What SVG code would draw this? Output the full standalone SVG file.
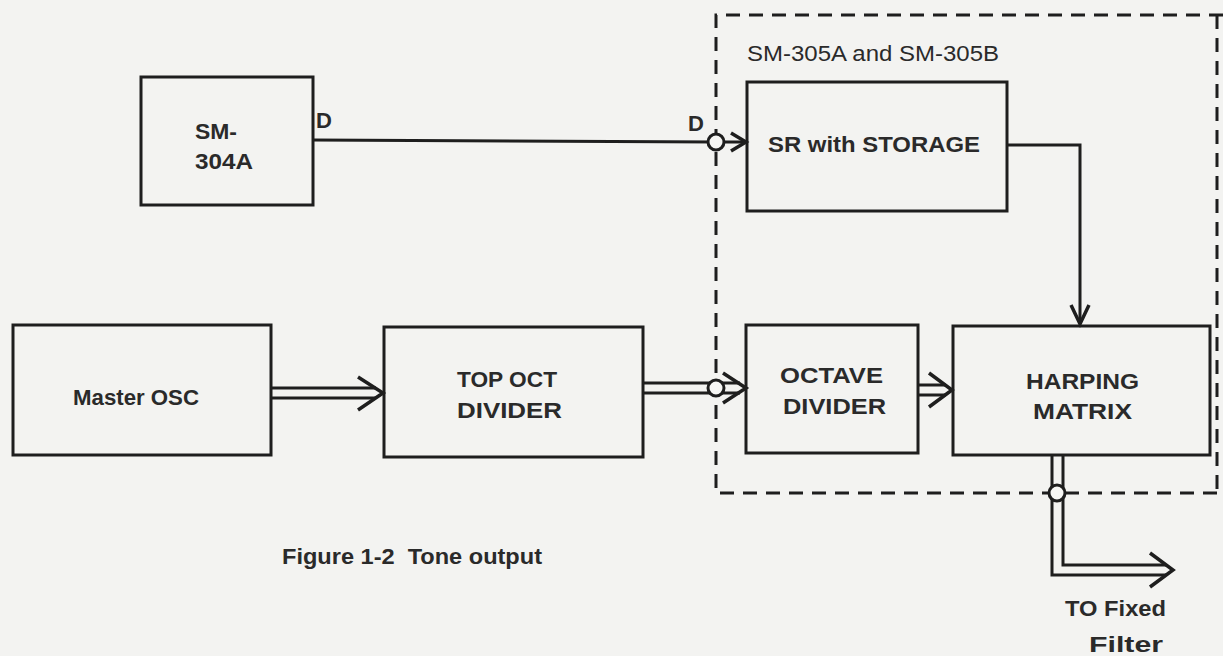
<svg xmlns="http://www.w3.org/2000/svg" width="1223" height="656" viewBox="0 0 1223 656">
<style>
.bg{fill:#f3f3f1}
.box{fill:none;stroke:#1e1e1e;stroke-width:3}
.ln{fill:none;stroke:#1e1e1e;stroke-width:3;stroke-linejoin:miter}
.hd{fill:none;stroke:#1e1e1e;stroke-width:3.5;stroke-linejoin:miter}
.dash{fill:none;stroke:#1e1e1e;stroke-width:3;stroke-dasharray:14 9}
.jn{fill:#f6f6f4;stroke:#1e1e1e;stroke-width:3}
.t{font-family:"Liberation Sans",Arial,sans-serif;font-weight:bold;fill:#2a2a2a;font-size:22px}
.tn{font-family:"Liberation Sans",Arial,sans-serif;fill:#2a2a2a;font-size:22px}
</style>
<rect class="bg" x="0" y="0" width="1223" height="656"/>

<g id="group-sm305">
<path class="dash" d="M1223 15 H716 V493 H1223"/>
<path class="dash" d="M1217 15 V493"/>
<text class="tn" x="747" y="61" textLength="252" lengthAdjust="spacingAndGlyphs">SM-305A and SM-305B</text>
</g>

<g id="node-sm304a">
<rect class="box" x="141" y="77" width="172" height="128"/>
<text class="t" x="195" y="139" textLength="42" lengthAdjust="spacingAndGlyphs">SM-</text>
<text class="t" x="195" y="169" textLength="58" lengthAdjust="spacingAndGlyphs">304A</text>
</g>

<g id="node-sr">
<rect class="box" x="747" y="82" width="260" height="129"/>
<text class="t" x="768" y="152" textLength="212" lengthAdjust="spacingAndGlyphs">SR with STORAGE</text>
</g>

<g id="node-master">
<rect class="box" x="13" y="325" width="258" height="130"/>
<text class="t" x="73" y="405" textLength="126" lengthAdjust="spacingAndGlyphs">Master OSC</text>
</g>

<g id="node-topoct">
<rect class="box" x="384" y="327" width="259" height="130"/>
<text class="t" x="457" y="387" textLength="100" lengthAdjust="spacingAndGlyphs">TOP OCT</text>
<text class="t" x="457" y="418" textLength="105" lengthAdjust="spacingAndGlyphs">DIVIDER</text>
</g>

<g id="node-octave">
<rect class="box" x="746" y="325" width="172" height="128"/>
<text class="t" x="780" y="383" textLength="103" lengthAdjust="spacingAndGlyphs">OCTAVE</text>
<text class="t" x="783" y="414" textLength="103" lengthAdjust="spacingAndGlyphs">DIVIDER</text>
</g>

<g id="node-harping">
<rect class="box" x="953" y="326" width="257" height="129"/>
<text class="t" x="1026" y="389" textLength="113" lengthAdjust="spacingAndGlyphs">HARPING</text>
<text class="t" x="1033" y="419" textLength="99" lengthAdjust="spacingAndGlyphs">MATRIX</text>
</g>

<g id="connectors">
<path class="ln" d="M313 140 L716 142 L744 142"/>
<polyline class="hd" points="731,133 746,142 731,151"/>
<circle class="jn" cx="716" cy="142" r="8"/>
<text class="tn" x="316" y="128" font-weight="bold">D</text>
<text class="tn" x="688" y="131" font-weight="bold">D</text>

<path class="ln" d="M1007 145 H1080 V322"/>
<polyline class="hd" points="1071,305 1080,324 1089,305"/>

<path class="ln" d="M271 388 H376 M271 398 H376"/>
<polyline class="hd" points="358,377 383,393 358,410"/>

<path class="ln" d="M643 383 H740 M643 393 H740"/>
<circle class="jn" cx="716" cy="388" r="8"/>
<polyline class="hd" points="723,373 746,388 723,403"/>

<path class="ln" d="M918 385 H946 M918 395 H946"/>
<polyline class="hd" points="929,373 952,390 929,407"/>

<path class="ln" d="M1052 455 V575 H1166 M1063 455 V565 H1166"/>
<circle class="jn" cx="1057" cy="493" r="8"/>
<polyline class="hd" points="1150,553 1173,570 1150,587"/>
</g>

<g id="labels">
<text class="t" x="1065" y="616" textLength="101" lengthAdjust="spacingAndGlyphs">TO Fixed</text>
<text class="t" x="1089" y="652" textLength="74" lengthAdjust="spacingAndGlyphs">Filter</text>
<text class="t" x="282" y="564" font-size="18" textLength="260" lengthAdjust="spacingAndGlyphs" xml:space="preserve">Figure 1-2  Tone output</text>
</g>
</svg>
